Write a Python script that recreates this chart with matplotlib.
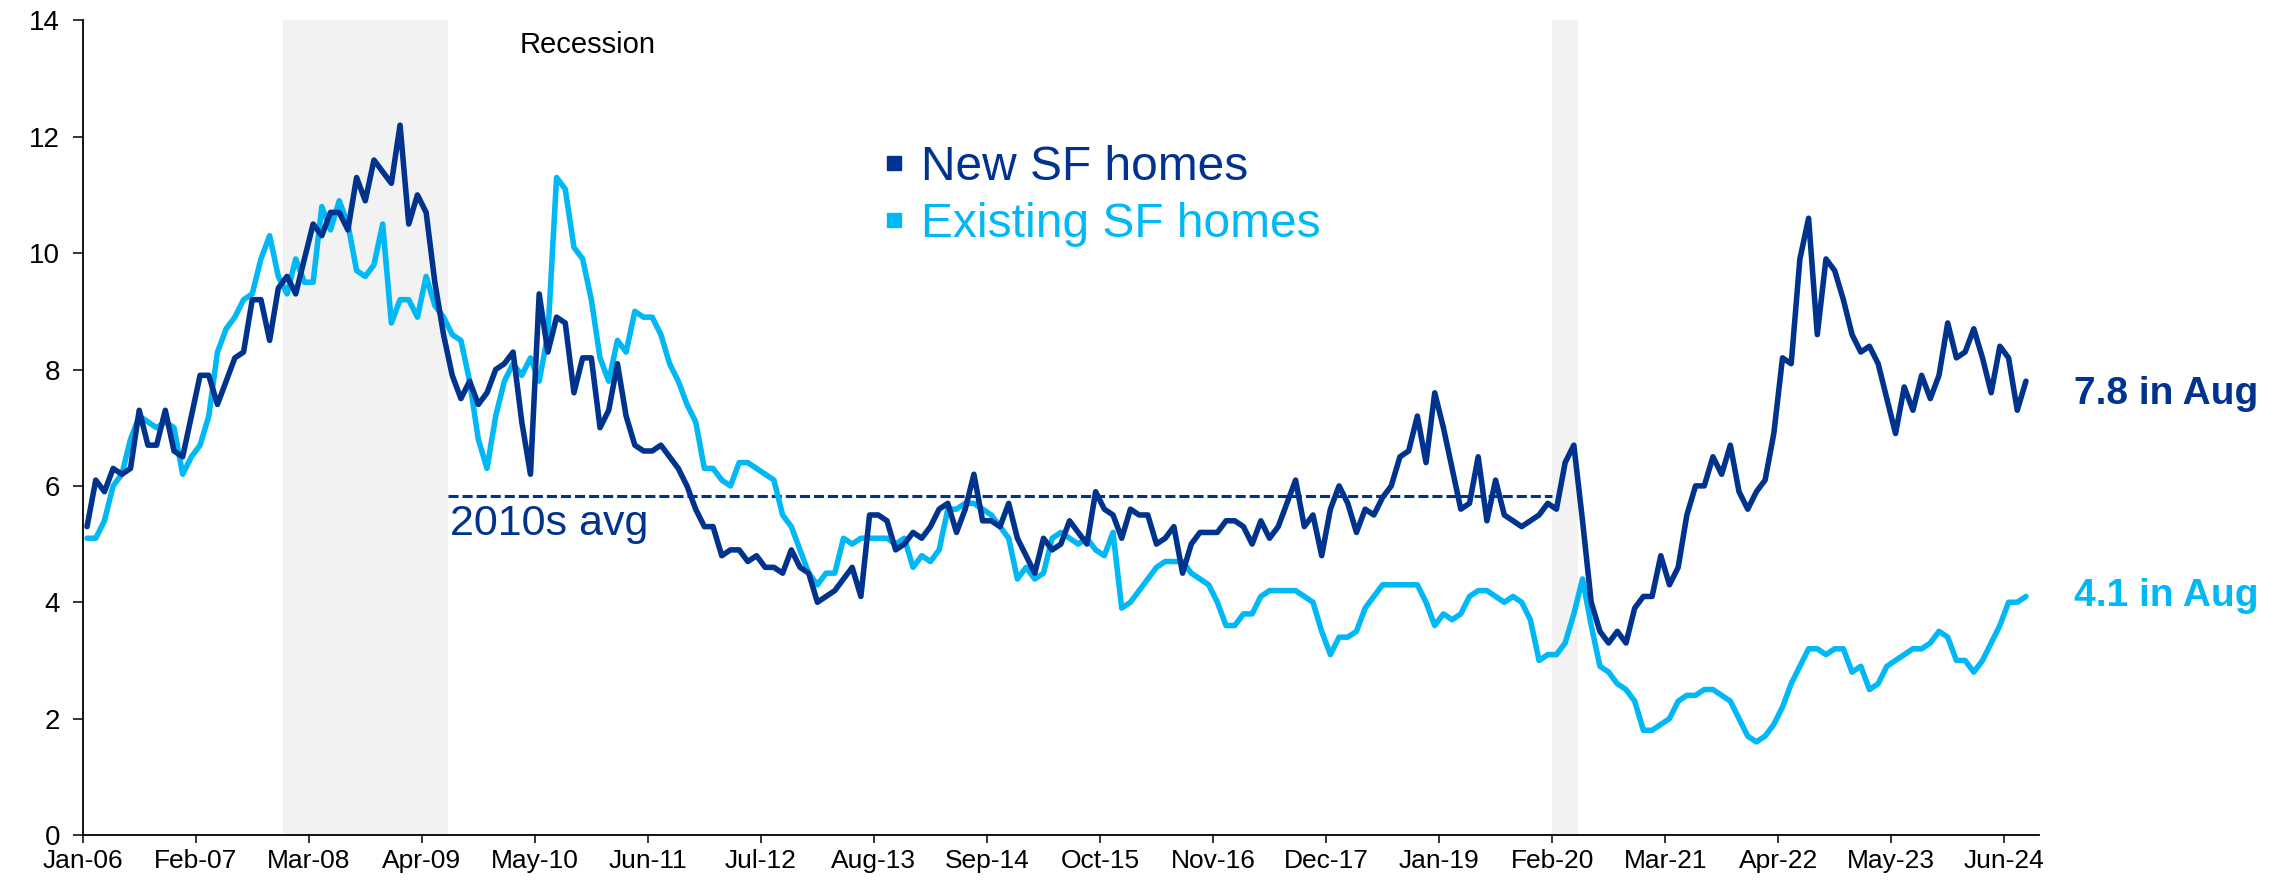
import numpy as np
import pandas as pd
import matplotlib
matplotlib.use("Agg")
import matplotlib.pyplot as plt
from matplotlib.lines import Line2D

plt.rcParams['font.family'] = ['Liberation Sans', 'DejaVu Sans']

# ---------------- data (months' supply, Jan-06 .. Aug-24) ----------------
new_sf = [
    5.3, 6.1, 5.9, 6.3, 6.2, 6.3, 7.3, 6.7, 6.7, 7.3, 6.6, 6.5,   # 2006
    7.2, 7.9, 7.9, 7.4, 7.8, 8.2, 8.3, 9.2, 9.2, 8.5, 9.4, 9.6,   # 2007
    9.3, 9.9, 10.5, 10.3, 10.7, 10.7, 10.4, 11.3, 10.9, 11.6, 11.4, 11.2,  # 2008
    12.2, 10.5, 11.0, 10.7, 9.5, 8.6, 7.9, 7.5, 7.8, 7.4, 7.6, 8.0,  # 2009
    8.1, 8.3, 7.1, 6.2, 9.3, 8.3, 8.9, 8.8, 7.6, 8.2, 8.2, 7.0,   # 2010
    7.3, 8.1, 7.2, 6.7, 6.6, 6.6, 6.7, 6.5, 6.3, 6.0, 5.6, 5.3,   # 2011
    5.3, 4.8, 4.9, 4.9, 4.7, 4.8, 4.6, 4.6, 4.5, 4.9, 4.6, 4.5,   # 2012
    4.0, 4.1, 4.2, 4.4, 4.6, 4.1, 5.5, 5.5, 5.4, 4.9, 5.0, 5.2,   # 2013
    5.1, 5.3, 5.6, 5.7, 5.2, 5.6, 6.2, 5.4, 5.4, 5.3, 5.7, 5.1,   # 2014
    4.8, 4.5, 5.1, 4.9, 5.0, 5.4, 5.2, 5.0, 5.9, 5.6, 5.5, 5.1,   # 2015
    5.6, 5.5, 5.5, 5.0, 5.1, 5.3, 4.5, 5.0, 5.2, 5.2, 5.2, 5.4,   # 2016
    5.4, 5.3, 5.0, 5.4, 5.1, 5.3, 5.7, 6.1, 5.3, 5.5, 4.8, 5.6,   # 2017
    6.0, 5.7, 5.2, 5.6, 5.5, 5.8, 6.0, 6.5, 6.6, 7.2, 6.4, 7.6,   # 2018
    7.0, 6.3, 5.6, 5.7, 6.5, 5.4, 6.1, 5.5, 5.4, 5.3, 5.4, 5.5,   # 2019
    5.7, 5.6, 6.4, 6.7, 5.4, 4.0, 3.5, 3.3, 3.5, 3.3, 3.9, 4.1,   # 2020
    4.1, 4.8, 4.3, 4.6, 5.5, 6.0, 6.0, 6.5, 6.2, 6.7, 5.9, 5.6,   # 2021
    5.9, 6.1, 6.9, 8.2, 8.1, 9.9, 10.6, 8.6, 9.9, 9.7, 9.2, 8.6,  # 2022
    8.3, 8.4, 8.1, 7.5, 6.9, 7.7, 7.3, 7.9, 7.5, 7.9, 8.8, 8.2,   # 2023
    8.3, 8.7, 8.2, 7.6, 8.4, 8.2, 7.3, 7.8,                       # 2024
]
existing_sf = [
    5.1, 5.1, 5.4, 6.0, 6.2, 6.8, 7.2, 7.1, 7.0, 7.1, 7.0, 6.2,   # 2006
    6.5, 6.7, 7.2, 8.3, 8.7, 8.9, 9.2, 9.3, 9.9, 10.3, 9.6, 9.3,  # 2007
    9.9, 9.5, 9.5, 10.8, 10.4, 10.9, 10.5, 9.7, 9.6, 9.8, 10.5, 8.8,  # 2008
    9.2, 9.2, 8.9, 9.6, 9.1, 8.9, 8.6, 8.5, 7.8, 6.8, 6.3, 7.2,   # 2009
    7.8, 8.1, 7.9, 8.2, 7.8, 8.6, 11.3, 11.1, 10.1, 9.9, 9.2, 8.2,  # 2010
    7.8, 8.5, 8.3, 9.0, 8.9, 8.9, 8.6, 8.1, 7.8, 7.4, 7.1, 6.3,   # 2011
    6.3, 6.1, 6.0, 6.4, 6.4, 6.3, 6.2, 6.1, 5.5, 5.3, 4.9, 4.5,   # 2012
    4.3, 4.5, 4.5, 5.1, 5.0, 5.1, 5.1, 5.1, 5.1, 5.0, 5.1, 4.6,   # 2013
    4.8, 4.7, 4.9, 5.6, 5.6, 5.7, 5.7, 5.6, 5.5, 5.3, 5.1, 4.4,   # 2014
    4.6, 4.4, 4.5, 5.1, 5.2, 5.1, 5.0, 5.1, 4.9, 4.8, 5.2, 3.9,   # 2015
    4.0, 4.2, 4.4, 4.6, 4.7, 4.7, 4.7, 4.5, 4.4, 4.3, 4.0, 3.6,   # 2016
    3.6, 3.8, 3.8, 4.1, 4.2, 4.2, 4.2, 4.2, 4.1, 4.0, 3.5, 3.1,   # 2017
    3.4, 3.4, 3.5, 3.9, 4.1, 4.3, 4.3, 4.3, 4.3, 4.3, 4.0, 3.6,   # 2018
    3.8, 3.7, 3.8, 4.1, 4.2, 4.2, 4.1, 4.0, 4.1, 4.0, 3.7, 3.0,   # 2019
    3.1, 3.1, 3.3, 3.8, 4.4, 3.6, 2.9, 2.8, 2.6, 2.5, 2.3, 1.8,   # 2020
    1.8, 1.9, 2.0, 2.3, 2.4, 2.4, 2.5, 2.5, 2.4, 2.3, 2.0, 1.7,   # 2021
    1.6, 1.7, 1.9, 2.2, 2.6, 2.9, 3.2, 3.2, 3.1, 3.2, 3.2, 2.8,   # 2022
    2.9, 2.5, 2.6, 2.9, 3.0, 3.1, 3.2, 3.2, 3.3, 3.5, 3.4, 3.0,   # 2023
    3.0, 2.8, 3.0, 3.3, 3.6, 4.0, 4.0, 4.1,                       # 2024
]
series_names = ["New SF homes", "Existing SF homes"]
tick_labels = ["Jan-06", "Feb-07", "Mar-08", "Apr-09", "May-10", "Jun-11",
               "Jul-12", "Aug-13", "Sep-14", "Oct-15", "Nov-16", "Dec-17",
               "Jan-19", "Feb-20", "Mar-21", "Apr-22", "May-23", "Jun-24"]
recessions = [("2007-12", "2009-06"), ("2020-02", "2020-04")]
avg_2010s = 5.83
avg_span = ("2009-07", "2020-01")

# ---------------- styling ----------------
DARK = "#00338D"
LIGHT = "#00B8F5"
SHADE = "#F2F2F2"

months = pd.date_range("2006-01-01", periods=len(new_sf), freq="MS")
idx = {m.strftime("%Y-%m"): i for i, m in enumerate(months)}
x = np.arange(len(months)) + 0.5

W, H = 2286, 888
fig = plt.figure(figsize=(W / 100, H / 100), dpi=100)
ax = fig.add_axes([82.7 / W, 1 - 835 / H, (2039 - 82.7) / W, (835 - 20.4) / H])

for start, end in recessions:
    ax.axvspan(idx[start], idx[end] + 1, color=SHADE, lw=0, zorder=0)

ax.hlines(avg_2010s, idx[avg_span[0]], idx[avg_span[1]] + 1, colors=DARK,
          linestyles=(0, (3.3, 1.3)), lw=2.2, zorder=2)

ax.plot(x, existing_sf, color=LIGHT, lw=4.0, solid_joinstyle="round",
        solid_capstyle="round", zorder=3)
ax.plot(x, new_sf, color=DARK, lw=4.0, solid_joinstyle="round",
        solid_capstyle="round", zorder=4)

ax.set_xlim(0, 225)
ax.set_ylim(0, 14)
ax.set_yticks(range(0, 15, 2))
ax.set_xticks(range(0, len(months), 13))
ax.set_xticklabels(tick_labels)
ax.tick_params(axis="y", labelsize=20, length=7.2, width=1.1, pad=9, direction="out")
ax.tick_params(axis="x", labelsize=19, length=5.8, width=1.1, pad=4, direction="out")
for s in ("top", "right"):
    ax.spines[s].set_visible(False)
for s in ("left", "bottom"):
    ax.spines[s].set_linewidth(1.3)

# texts
ax.text(50.2, 13.44, "Recession", fontsize=21, color="black", ha="left", va="baseline")
ax.text(42.2, 5.15, "2010s avg", fontsize=31, color=DARK, ha="left", va="baseline")
ax.text(229, 7.41, f"{new_sf[-1]:.1f} in Aug", fontsize=28, fontweight="bold",
        color=DARK, ha="left", va="baseline", clip_on=False)
ax.text(229, 3.93, f"{existing_sf[-1]:.1f} in Aug", fontsize=28, fontweight="bold",
        color=LIGHT, ha="left", va="baseline", clip_on=False)

handles = [Line2D([], [], marker="s", linestyle="none", markersize=9.5, color=c)
           for c in (DARK, LIGHT)]
ax.legend(handles, series_names, loc="center left",
          bbox_to_anchor=(882 / W, 1 - 196 / H), bbox_transform=fig.transFigure,
          frameon=False, fontsize=34.5, labelcolor=[DARK, LIGHT],
          handlelength=0.5, handletextpad=0.31, labelspacing=0.25,
          borderpad=0, borderaxespad=0)

fig.savefig("out.png", dpi=100)
